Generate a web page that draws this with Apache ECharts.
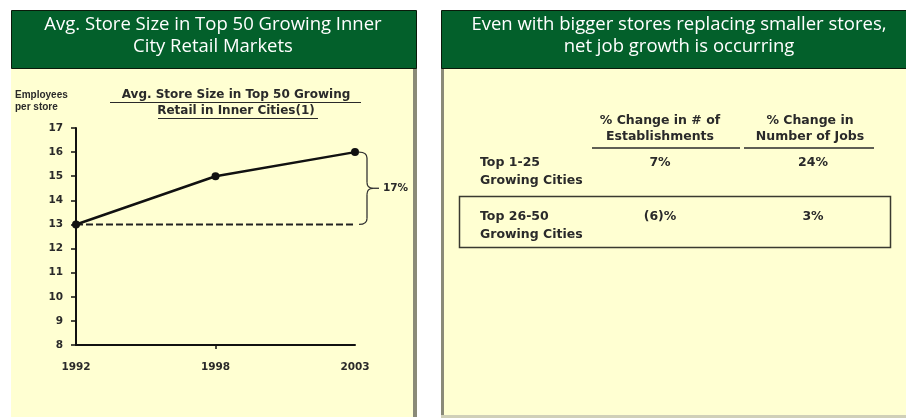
<!DOCTYPE html>
<html><head><meta charset="utf-8">
<script src="https://cdn.jsdelivr.net/npm/echarts@6/dist/echarts.min.js"></script>
<style>html,body{margin:0;padding:0;background:#fff}#c{width:906px;height:418px}</style>
</head><body><div id="c"></div>
<script>
// ---- data ----
const years = ['1992', '1998', '2003'];
const storeSize = [13, 15, 16];
const baseline = [13, 13, 13];
const yTicks = [8, 9, 10, 11, 12, 13, 14, 15, 16, 17];
const growthLabel = '17%';
const leftTitle = ['Avg. Store Size in Top 50 Growing Inner', 'City Retail Markets'];
const rightTitle = ['Even with bigger stores replacing smaller stores,', 'net job growth is occurring'];
const innerTitle = ['Avg. Store Size in Top 50 Growing', 'Retail in Inner Cities(1)'];
const yAxisTitle = ['Employees', 'per store'];
const colHeaders = [['% Change in # of', 'Establishments'], ['% Change in', 'Number of Jobs']];
const rowLabels = [['Top 1-25', 'Growing Cities'], ['Top 26-50', 'Growing Cities']];
const estChange = ['7%', '(6)%'];
const jobChange = ['24%', '3%'];

const GREEN = '#03602b', BODY = '#ffffd2', INK = '#2a2a2a';
const HF = '"Open Sans", sans-serif';
const BF = '"Liberation Sans", Arial, sans-serif';
const DF = '"DejaVu Sans", sans-serif';

function txt(x, y, s, o) {
  return Object.assign({type: 'text', x: x, y: y, silent: true,
    style: Object.assign({text: s, fill: INK, font: 'bold 10px ' + BF, textAlign: 'left', textVerticalAlign: 'middle'}, o || {})});
}
function line(x1, y1, x2, y2, c, w) {
  return {type: 'line', silent: true, shape: {x1: x1, y1: y1, x2: x2, y2: y2}, style: {stroke: c || INK, lineWidth: w || 1}};
}
function curve(x1, y1, cx, cy, x2, y2) {
  return {type: 'bezierCurve', silent: true, shape: {x1: x1, y1: y1, cpx1: cx, cpy1: cy, x2: x2, y2: y2},
    style: {fill: 'none', stroke: '#333', lineWidth: 1.3}};
}

const g = [];
// panels
g.push({type: 'rect', shape: {x: 11, y: 68, width: 406, height: 349}, style: {fill: BODY}, z: -10});
g.push({type: 'rect', shape: {x: 413, y: 68, width: 4, height: 349}, style: {fill: '#8a8a78'}, z: -9});
g.push({type: 'rect', shape: {x: 11.5, y: 10.5, width: 405, height: 58}, style: {fill: GREEN, stroke: '#0a1a0a', lineWidth: 1}, z: -8});
g.push({type: 'rect', shape: {x: 441, y: 68, width: 465, height: 347}, style: {fill: BODY}, z: -10});
g.push({type: 'rect', shape: {x: 441, y: 68, width: 3, height: 347}, style: {fill: '#8a8a78'}, z: -9});
g.push({type: 'rect', shape: {x: 441, y: 415, width: 465, height: 3}, style: {fill: '#d0d0b8'}, z: -9});
g.push({type: 'rect', shape: {x: 441.5, y: 10.5, width: 470, height: 58}, style: {fill: GREEN, stroke: '#0a1a0a', lineWidth: 1}, z: -8});
// header titles
leftTitle.forEach((s, i) => g.push(txt(213, 25 + i * 22, s, {fill: '#fff', font: '18.5px ' + HF, textAlign: 'center'})));
rightTitle.forEach((s, i) => g.push(txt(679, 25 + i * 22, s, {fill: '#fff', font: '18.5px ' + HF, textAlign: 'center'})));
// left inner titles
yAxisTitle.forEach((s, i) => g.push(txt(15, 95 + i * 12, s, {font: 'bold 10px ' + BF})));
innerTitle.forEach((s, i) => g.push(txt(236, 95 + i * 16, s, {font: 'bold 12px ' + DF, textAlign: 'center'})));
g.push(line(110, 102.5, 361, 102.5, INK, 1));
g.push(line(158, 118.5, 318, 118.5, INK, 1));
// right table
const cx = [660, 810];
const TF = 'bold 12.5px ' + DF;
colHeaders.forEach((h, j) => h.forEach((s, i) => g.push(txt(cx[j], 121 + i * 16, s, {font: TF, textAlign: 'center'}))));
g.push(line(592, 148, 740, 148, INK, 1.5));
g.push(line(744, 148, 874, 148, INK, 1.5));
const ry = [163, 217];
rowLabels.forEach((r, k) => {
  r.forEach((s, i) => g.push(txt(480, ry[k] + i * 18, s, {font: TF})));
  g.push(txt(cx[0], ry[k], estChange[k], {font: TF, textAlign: 'center'}));
  g.push(txt(cx[1] + 3, ry[k], jobChange[k], {font: TF, textAlign: 'center'}));
});
g.push({type: 'rect', silent: true, shape: {x: 459.5, y: 196.5, width: 431, height: 51}, style: {fill: 'none', stroke: '#3a3a30', lineWidth: 1.5}});

const chart = echarts.init(document.getElementById('c'));
chart.setOption({
  animation: false,
  backgroundColor: '#ffffff',
  grid: {left: 76, top: 128, width: 279, height: 217},
  xAxis: {
    type: 'category', data: years, boundaryGap: false,
    axisLine: {lineStyle: {color: '#111', width: 2}},
    axisTick: {show: true, length: 4, inside: false, lineStyle: {color: '#111', width: 1.5}, interval: function (i) { return i === 1; }},
    axisLabel: {color: INK, fontWeight: 'bold', fontSize: 10.5, fontFamily: DF, margin: 17}
  },
  yAxis: {
    type: 'value', min: yTicks[0], max: yTicks[yTicks.length - 1], interval: 1,
    splitLine: {show: false},
    axisLine: {show: true, lineStyle: {color: '#111', width: 2}},
    axisTick: {show: true, length: 5, lineStyle: {color: '#111', width: 1.5}},
    axisLabel: {color: INK, fontWeight: 'bold', fontSize: 10.5, fontFamily: DF, margin: 13}
  },
  series: [
    {type: 'line', data: baseline, symbol: 'none', z: 1,
     lineStyle: {color: '#222', width: 2, type: [7, 3]}},
    {type: 'line', data: storeSize, symbol: 'circle', symbolSize: 8, z: 3,
     itemStyle: {color: '#111'}, lineStyle: {color: '#111', width: 2.5}}
  ],
  graphic: g
});

// brace annotation derived from the data positions
const pTop = chart.convertToPixel({xAxisIndex: 0, yAxisIndex: 0}, [2, storeSize[2]]);
const pBot = chart.convertToPixel({xAxisIndex: 0, yAxisIndex: 0}, [2, baseline[2]]);
const x0 = pTop[0] + 4, xv = pTop[0] + 12, xt = pTop[0] + 18, mid = (pTop[1] + pBot[1]) / 2, r = 6;
g.push(curve(x0, pTop[1], xv, pTop[1], xv, pTop[1] + r));
g.push(line(xv, pTop[1] + r, xv, mid - r, '#333', 1.3));
g.push(curve(xv, mid - r, xv, mid, xt, mid));
g.push(curve(xt, mid, xv, mid, xv, mid + r));
g.push(line(xv, mid + r, xv, pBot[1] - r, '#333', 1.3));
g.push(curve(xv, pBot[1] - r, xv, pBot[1], x0, pBot[1]));
g.push(line(xt, mid, xt + 6, mid, '#333', 1.3));
g.push(txt(xt + 10, mid, growthLabel, {font: 'bold 10.5px ' + DF}));
chart.setOption({graphic: g});
</script></body></html>
